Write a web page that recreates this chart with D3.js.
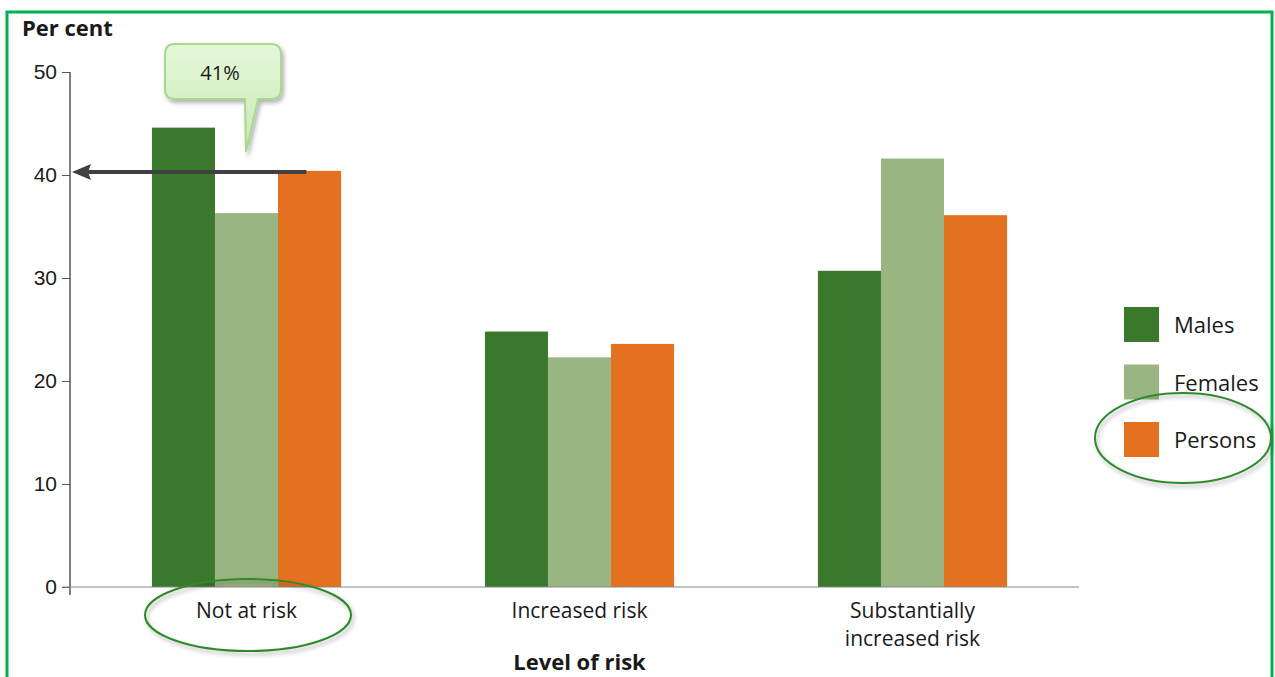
<html lang="en">
<head>
  <meta charset="UTF-8"/>
  <title>Level of risk bar chart</title>
  <script src="https://d3js.org/d3.v7.min.js"></script>
</head>
<body>
  <svg></svg>
</body>
<style>
body {
  margin: 0;
  background: #fff;
  font-family: 'Open Sans', sans-serif;
}
svg {
  width: 1275px;
  height: 677px;
  display: block;
}
text {
  fill: #1a1a1a;
}
.tick text {
  font-size: 21px;
  fill: #1a1a1a;
}
.tick line, .domain {
  stroke: #555;
}
text.title {
  font-size: 22px;
  font-weight: 700;
}
text.cat {
  font-size: 21px;
}
text.legend {
  font-size: 22px;
}
</style>
<script>
const categories = ['Not at risk', 'Increased risk', 'Substantially increased risk'];
const seriesNames = ['Males', 'Females', 'Persons'];
const males = [44.6, 24.8, 30.7];
const females = [36.3, 22.3, 41.6];
const persons = [40.4, 23.6, 36.1];
const yTicks = [0, 10, 20, 30, 40, 50];
const colors = ['#3a782c', '#99b682', '#e4711f'];
const calloutText = '41%';
const markedValue = 40;

const seriesValues = [males, females, persons];

const svg = d3.select('svg');

// defs: shadow + callout gradient
const defs = svg.append('defs');
const shadow = defs.append('filter').attr('id', 'shadow')
  .attr('x', '-20%').attr('y', '-20%').attr('width', '150%').attr('height', '150%');
shadow.append('feDropShadow').attr('dx', 2).attr('dy', 3).attr('stdDeviation', 2)
  .attr('flood-color', '#000').attr('flood-opacity', 0.3);
const grad = defs.append('linearGradient').attr('id', 'callgrad')
  .attr('x1', 0).attr('y1', 0).attr('x2', 0).attr('y2', 1);
grad.append('stop').attr('offset', '0%').attr('stop-color', '#e6f7da');
grad.append('stop').attr('offset', '100%').attr('stop-color', '#c7eab0');

// frame
svg.append('rect')
  .attr('x', 7).attr('y', 12).attr('width', 1265).attr('height', 700)
  .attr('fill', 'none').attr('stroke', '#00b050').attr('stroke-width', 3);

const x0 = d3.scaleBand()
  .domain(categories)
  .range([80, 1079])
  .paddingInner(0.432)
  .paddingOuter(0.216);

const x1 = d3.scaleBand()
  .domain(seriesNames)
  .range([0, x0.bandwidth()]);

const y = d3.scaleLinear()
  .domain([0, 50])
  .range([587, 72]);

// y axis
const yAxis = svg.append('g')
  .attr('transform', 'translate(70,0)')
  .call(d3.axisLeft(y).tickValues(yTicks).tickSize(8).tickPadding(5).tickSizeOuter(0));
yAxis.select('.domain').attr('d', `M0,${y(50)}V${y(0) + 8}`).attr('stroke-width', 1.5);

// bars
const groups = svg.append('g').selectAll('g')
  .data(categories)
  .join('g')
  .attr('transform', d => `translate(${x0(d)},0)`);

groups.selectAll('rect')
  .data((d, i) => seriesNames.map((s, j) => ({ s, v: seriesValues[j][i], j })))
  .join('rect')
  .attr('x', d => x1(d.s))
  .attr('y', d => y(d.v))
  .attr('width', x1.bandwidth())
  .attr('height', d => y(0) - y(d.v))
  .attr('fill', d => colors[d.j]);

// baseline
svg.append('line')
  .attr('x1', 62).attr('x2', 1079)
  .attr('y1', y(0)).attr('y2', y(0))
  .attr('stroke', '#888').attr('stroke-width', 1.2);

// category labels, one text per line
const catLines = {
  'Not at risk': ['Not at risk'],
  'Increased risk': ['Increased risk'],
  'Substantially increased risk': ['Substantially', 'increased risk']
};
categories.forEach(c => {
  catLines[c].forEach((line, i) => {
    svg.append('text')
      .attr('class', 'cat')
      .attr('text-anchor', 'middle')
      .attr('x', x0(c) + x0.bandwidth() / 2)
      .attr('y', 618 + i * 28)
      .text(line);
  });
});

// titles
svg.append('text').attr('class', 'title')
  .attr('x', 22).attr('y', 36).text('Per cent');
svg.append('text').attr('class', 'title')
  .attr('x', x0(categories[1]) + x0.bandwidth() / 2).attr('y', 670)
  .attr('text-anchor', 'middle').text('Level of risk');

// legend
const legend = svg.append('g').attr('transform', 'translate(1124,307)');
seriesNames.forEach((s, i) => {
  legend.append('rect')
    .attr('x', 0).attr('y', i * 57.5)
    .attr('width', 35).attr('height', 35)
    .attr('fill', colors[i]);
  legend.append('text').attr('class', 'legend')
    .attr('x', 50).attr('y', i * 57.5 + 26)
    .text(s);
});

// arrow pointing to the persons value
const personsX = x0(categories[0]) + x1('Persons') + x1.bandwidth() * 0.45;
svg.append('line')
  .attr('x1', personsX).attr('x2', 88)
  .attr('y1', y(markedValue) - 3).attr('y2', y(markedValue) - 3)
  .attr('stroke', '#404040').attr('stroke-width', 4);
svg.append('path')
  .attr('d', `M72,${y(markedValue) - 3}L91,${y(markedValue) - 11}L88,${y(markedValue) - 3}L91,${y(markedValue) + 5}Z`)
  .attr('fill', '#404040');

// callout bubble
const callout = svg.append('g').attr('filter', 'url(#shadow)');
callout.append('path')
  .attr('d', 'M175,44 H271 Q281,44 281,54 V89 Q281,99 271,99 H258 L246,152 L245,99 H175 Q165,99 165,89 V54 Q165,44 175,44 Z')
  .attr('fill', 'url(#callgrad)')
  .attr('stroke', '#a9d88e').attr('stroke-width', 2);
svg.append('text')
  .attr('x', 220).attr('y', 80)
  .attr('text-anchor', 'middle')
  .style('font-size', '20px')
  .text(calloutText);

// highlight ellipses
const ellipses = svg.append('g').attr('filter', 'url(#shadow)');
ellipses.append('ellipse')
  .attr('cx', 248).attr('cy', 615).attr('rx', 103).attr('ry', 36)
  .attr('fill', 'none').attr('stroke', '#2f8a2a').attr('stroke-width', 2);
ellipses.append('ellipse')
  .attr('cx', 1183).attr('cy', 438).attr('rx', 88).attr('ry', 45)
  .attr('fill', 'none').attr('stroke', '#2f8a2a').attr('stroke-width', 2);
</script>
</html>
